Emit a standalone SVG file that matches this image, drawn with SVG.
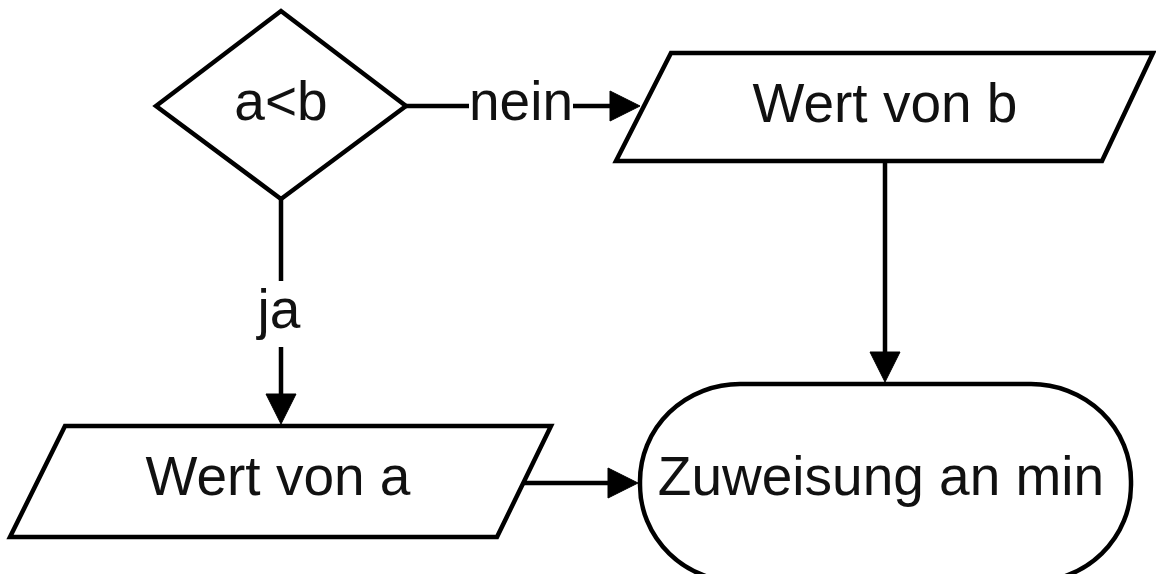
<svg xmlns="http://www.w3.org/2000/svg" width="1156" height="574" viewBox="0 0 1156 574">
  <style>
    .shape { fill: #ffffff; stroke: #000000; stroke-width: 4.5; stroke-linejoin: miter; }
    .edge { fill: none; stroke: #000000; stroke-width: 4.5; }
    .label { font-family: "Liberation Sans", Arial, Helvetica, sans-serif; font-size: 55px; fill: #111111; text-anchor: middle; }
    .lblbg { fill: #ffffff; stroke: none; }
  </style>
  <defs>
    <marker id="arrow" markerUnits="userSpaceOnUse" markerWidth="32" markerHeight="32" refX="0" refY="15" orient="auto" overflow="visible">
      <path d="M0,0 L30,15 L0,30 Z" fill="#000000" stroke="#000000" stroke-width="1"/>
    </marker>
  </defs>
  <rect width="1156" height="574" fill="#ffffff"/>

  <g id="connectors">
    <g id="edge-nein">
      <path class="edge" d="M406,106 L610,106" marker-end="url(#arrow)"/>
      <rect class="lblbg" x="469" y="78" width="104" height="56"/>
      <text class="label" x="521" y="120">nein</text>
    </g>
    <g id="edge-ja">
      <path class="edge" d="M281,199 L281,394" marker-end="url(#arrow)"/>
      <rect class="lblbg" x="252" y="281" width="58" height="66"/>
      <text class="label" x="279" y="328">ja</text>
    </g>
    <g id="edge-b-min">
      <path class="edge" d="M885,161 L885,352" marker-end="url(#arrow)"/>
    </g>
    <g id="edge-a-min">
      <path class="edge" d="M523,483 L608,483" marker-end="url(#arrow)"/>
    </g>
  </g>

  <g id="node-decision">
    <polygon class="shape" points="156,106 281,11 406,106 281,199"/>
    <text class="label" x="281" y="120">a&lt;b</text>
  </g>

  <g id="node-wert-b">
    <polygon class="shape" points="671,53 1153,53 1102,161 616,161"/>
    <text class="label" x="885" y="122">Wert von b</text>
  </g>

  <g id="node-wert-a">
    <polygon class="shape" points="65,426 551,426 497,537 10,537"/>
    <text class="label" x="278" y="495">Wert von a</text>
  </g>

  <g id="node-zuweisung">
    <rect class="shape" x="640" y="384" width="491" height="198" rx="100" ry="97"/>
    <text class="label" x="881" y="495">Zuweisung an min</text>
  </g>
</svg>
